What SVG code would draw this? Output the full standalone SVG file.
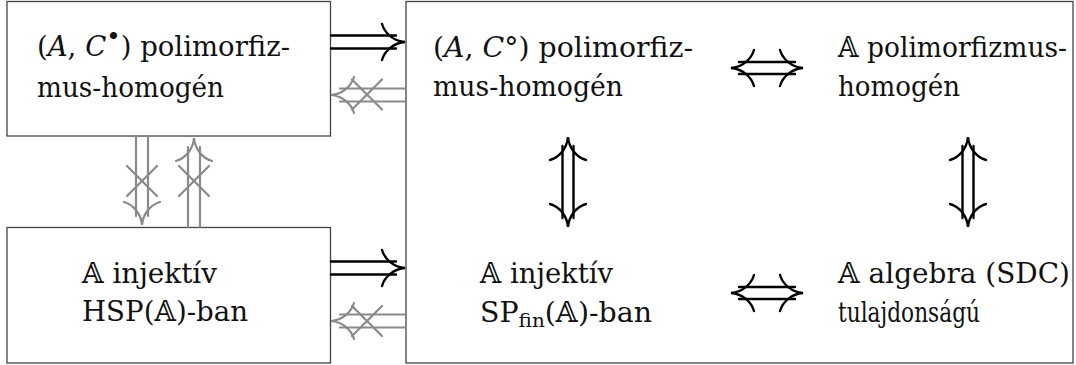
<svg xmlns="http://www.w3.org/2000/svg" width="1076" height="365" viewBox="0 0 1076 365">
  <style>
    .box { fill: #ffffff; stroke: #444444; stroke-width: 1.3; }
    .lbl { font-family: "DejaVu Serif", serif; font-size: 27px; fill: #111111; }
    .it { font-style: italic; }
    .blk { stroke: #000000; stroke-width: 2.4; fill: none; stroke-linecap: round; }
    .gry { stroke: #8a8a8a; stroke-width: 2.2; fill: none; stroke-linecap: round; }
  </style>
  <defs>
    <!-- curved arrow tip pointing right, tip at origin -->
    <path id="tip" d="M-23,-18 C-20,-8 -11,-1 0,0 C-11,1 -20,8 -23,18"/>
    <!-- strike-through cross -->
    <path id="cross" d="M-15,-15 L15,15 M15,-15 L-15,15"/>
  </defs>

  <g id="node-acbullet">
    <rect class="box" x="7" y="1.5" width="323.5" height="134.5"/>
    <text class="lbl" x="37" y="56" textLength="253" lengthAdjust="spacingAndGlyphs">(<tspan class="it">A</tspan>, <tspan class="it">C</tspan><tspan font-size="24" dy="-11">•</tspan><tspan dy="11">)  polimorfiz-</tspan></text>
    <text class="lbl" x="37" y="96.5" textLength="187" lengthAdjust="spacingAndGlyphs">mus-homogén</text>
  </g>

  <g id="node-hsp">
    <rect class="box" x="7" y="227.5" width="323.5" height="135.5"/>
    <text class="lbl" x="82" y="283.3" textLength="135" lengthAdjust="spacingAndGlyphs">𝔸 injektív</text>
    <text class="lbl" x="82" y="321" textLength="166" lengthAdjust="spacingAndGlyphs">HSP(𝔸)-ban</text>
  </g>

  <g id="node-equiv">
    <rect class="box" x="406" y="1.5" width="667" height="361.5"/>
    <g id="node-accirc">
      <text class="lbl" x="433" y="57" textLength="260" lengthAdjust="spacingAndGlyphs">(<tspan class="it">A</tspan>, <tspan class="it">C</tspan>°)  polimorfiz-</text>
      <text class="lbl" x="433" y="95.5" textLength="190" lengthAdjust="spacingAndGlyphs">mus-homogén</text>
    </g>
    <g id="node-polyhom">
      <text class="lbl" x="838" y="57" textLength="229" lengthAdjust="spacingAndGlyphs">𝔸 polimorfizmus-</text>
      <text class="lbl" x="838" y="95.5" textLength="122" lengthAdjust="spacingAndGlyphs">homogén</text>
    </g>
    <g id="node-spfin">
      <text class="lbl" x="480" y="283.3" textLength="133" lengthAdjust="spacingAndGlyphs">𝔸 injektív</text>
      <text class="lbl" x="480" y="321.7" textLength="172" lengthAdjust="spacingAndGlyphs">SP<tspan font-size="19" dy="5">fin</tspan><tspan dy="-5">(</tspan>𝔸)-ban</text>
    </g>
    <g id="node-sdc">
      <text class="lbl" x="838" y="283.3" textLength="232" lengthAdjust="spacingAndGlyphs">𝔸 algebra (SDC)</text>
      <text class="lbl" x="838" y="321.7" textLength="142" lengthAdjust="spacingAndGlyphs">tulajdonságú</text>
    </g>
  </g>

  <g id="connectors">
    <!-- implications into the equivalence block -->
    <path class="blk" d="M331,35.5 H396 M331,48.5 H396"/>
    <use href="#tip" class="blk" transform="translate(405,42)"/>
    <path class="blk" d="M331,261.5 H396 M331,274.5 H396"/>
    <use href="#tip" class="blk" transform="translate(405,268)"/>

    <!-- failed converse implications -->
    <path class="gry" d="M340,88.5 H406 M340,101.5 H406"/>
    <use href="#tip" class="gry" transform="translate(331,95) rotate(180)"/>
    <use href="#cross" class="gry" transform="translate(367,94.5)"/>
    <path class="gry" d="M340,314.5 H406 M340,327.5 H406"/>
    <use href="#tip" class="gry" transform="translate(331,321) rotate(180)"/>
    <use href="#cross" class="gry" transform="translate(367,321)"/>

    <!-- failed implications between the left nodes -->
    <path class="gry" d="M136,136 V216 M148,136 V216"/>
    <use href="#tip" class="gry" transform="translate(142,225) rotate(90)"/>
    <use href="#cross" class="gry" transform="translate(142,181)"/>
    <path class="gry" d="M188,147 V227 M200,147 V227"/>
    <use href="#tip" class="gry" transform="translate(194,138) rotate(-90)"/>
    <use href="#cross" class="gry" transform="translate(194,181)"/>

    <!-- equivalences -->
    <path class="blk" d="M739,62 H795 M739,74 H795"/>
    <use href="#tip" class="blk" transform="translate(803,68)"/>
    <use href="#tip" class="blk" transform="translate(731,68) rotate(180)"/>
    <path class="blk" d="M739,287 H795 M739,299 H795"/>
    <use href="#tip" class="blk" transform="translate(803,293)"/>
    <use href="#tip" class="blk" transform="translate(731,293) rotate(180)"/>

    <path class="blk" d="M562.5,146 V218 M573.5,146 V218"/>
    <use href="#tip" class="blk" transform="translate(568,137) rotate(-90)"/>
    <use href="#tip" class="blk" transform="translate(568,227) rotate(90)"/>
    <path class="blk" d="M962.5,146 V218 M973.5,146 V218"/>
    <use href="#tip" class="blk" transform="translate(968,137) rotate(-90)"/>
    <use href="#tip" class="blk" transform="translate(968,227) rotate(90)"/>
  </g>
</svg>
